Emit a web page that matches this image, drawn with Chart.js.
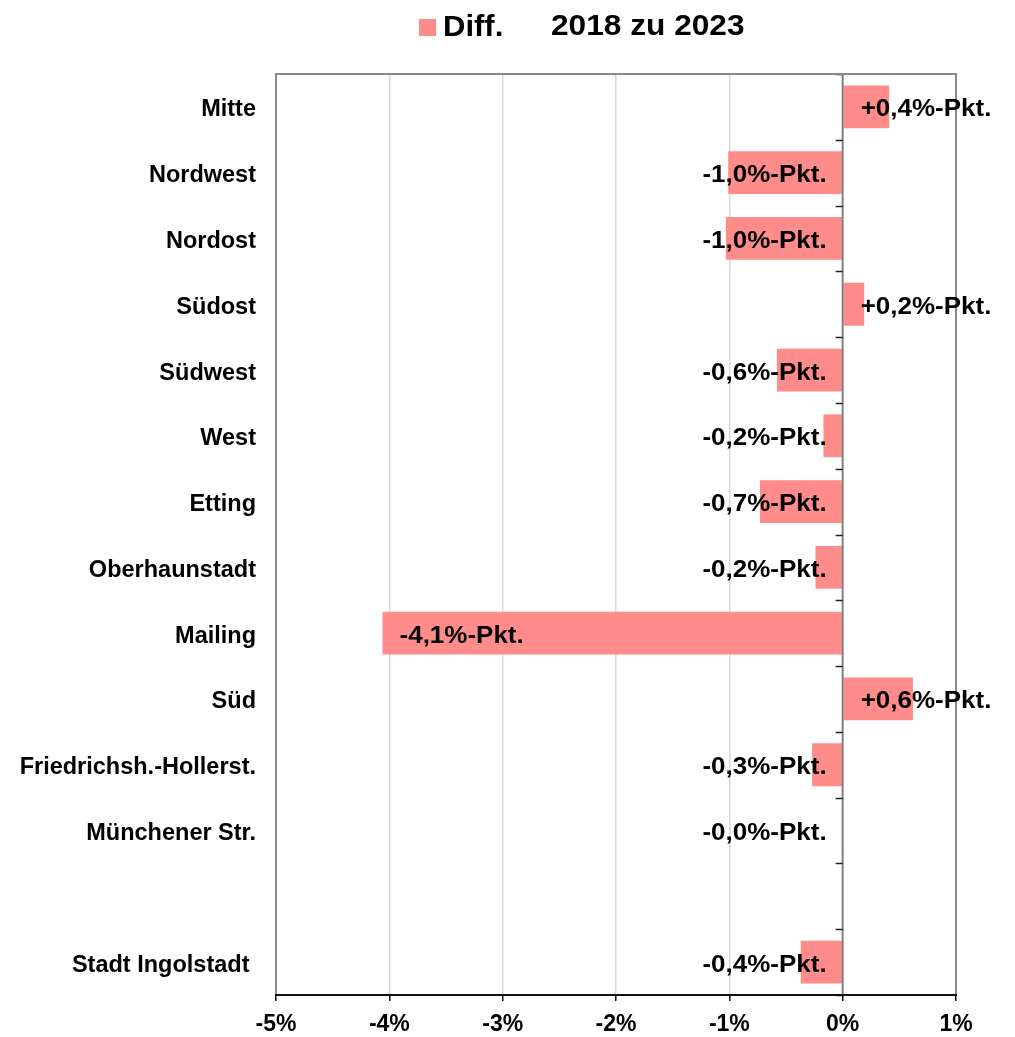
<!DOCTYPE html>
<html>
<head>
<meta charset="utf-8">
<script src="https://cdn.jsdelivr.net/npm/chart.js@4/dist/chart.umd.min.js"></script>
<style>
  html, body { margin: 0; padding: 0; background: #ffffff; }
  #wrap { width: 1015px; height: 1037px; position: relative; }
</style>
</head>
<body>
<div id="wrap"><canvas id="c" width="1015" height="1037"></canvas></div>
<script>
// ---- data ----
const categories = ['Mitte', 'Nordwest', 'Nordost', 'Südost', 'Südwest', 'West', 'Etting',
  'Oberhaunstadt', 'Mailing', 'Süd', 'Friedrichsh.-Hollerst.', 'Münchener Str.', '', 'Stadt Ingolstadt '];
const diffValues = [0.41, -1.01, -1.03, 0.19, -0.58, -0.17, -0.73, -0.24, -4.06, 0.62, -0.27, -0.004, null, -0.37];
const valueLabels = ['+0,4%-Pkt.', '-1,0%-Pkt.', '-1,0%-Pkt.', '+0,2%-Pkt.', '-0,6%-Pkt.', '-0,2%-Pkt.', '-0,7%-Pkt.',
  '-0,2%-Pkt.', '-4,1%-Pkt.', '+0,6%-Pkt.', '-0,3%-Pkt.', '-0,0%-Pkt.', '', '-0,4%-Pkt.'];
const labelAnchor = ['base', 'base', 'base', 'base', 'base', 'base', 'base', 'base', 'end', 'base', 'base', 'base', 'base', 'base'];
const xTickValues = [-5, -4, -3, -2, -1, 0, 1];
const seriesName = 'Diff.';
const titleText = '2018 zu 2023';

const FONT = '"Liberation Sans", Arial, sans-serif';
const BAR = '#FF8B8B';

function stretchedText(ctx, text, x, y, sx, align) {
  const w = ctx.measureText(text).width * sx;
  const left = align === 'right' ? x - w : x;
  ctx.save();
  ctx.textAlign = 'left';
  ctx.translate(left, y);
  ctx.scale(sx, 1);
  ctx.fillText(text, 0, 0);
  ctx.restore();
}

const customPlugin = {
  id: 'custom',
  afterDatasetsDraw(chart) {
    const { ctx, chartArea: a, scales: { x, y } } = chart;
    const x0 = x.getPixelForValue(0);
    ctx.save();
    // zero line
    ctx.strokeStyle = '#7f7f7f';
    ctx.lineWidth = 2;
    ctx.beginPath(); ctx.moveTo(x0, a.top); ctx.lineTo(x0, a.bottom); ctx.stroke();
    // category boundary ticks on zero line
    ctx.strokeStyle = '#222';
    ctx.lineWidth = 1.5;
    for (let i = 0; i <= categories.length; i++) {
      const yy = Math.round(y.getPixelForValue(i - 0.5)) + 0.5;
      ctx.beginPath(); ctx.moveTo(x0 - 7, yy); ctx.lineTo(x0, yy); ctx.stroke();
    }
    // frame
    ctx.strokeStyle = '#8a8a8a';
    ctx.lineWidth = 2;
    ctx.beginPath();
    ctx.moveTo(a.left, a.bottom); ctx.lineTo(a.left, a.top); ctx.lineTo(a.right, a.top); ctx.lineTo(a.right, a.bottom);
    ctx.stroke();
    ctx.strokeStyle = '#111';
    ctx.beginPath(); ctx.moveTo(a.left - 1, a.bottom); ctx.lineTo(a.right + 1, a.bottom); ctx.stroke();

    // value labels
    ctx.fillStyle = '#000';
    ctx.font = 'bold 23px ' + FONT;
    ctx.textBaseline = 'alphabetic';
    const meta = chart.getDatasetMeta(0);
    meta.data.forEach((bar, i) => {
      const v = diffValues[i];
      if (v === null || v === undefined || !valueLabels[i]) return;
      const yc = bar.y + 9.5;
      if (labelAnchor[i] === 'end') {
        stretchedText(ctx, valueLabels[i], x.getPixelForValue(v) + 17, yc, 1.13, 'left');
      } else if (v >= 0) {
        stretchedText(ctx, valueLabels[i], x0 + 18, yc, 1.13, 'left');
      } else {
        stretchedText(ctx, valueLabels[i], x0 - 16, yc, 1.13, 'right');
      }
    });
    ctx.restore();
  },
  afterDraw(chart) {
    const ctx = chart.ctx;
    ctx.save();
    ctx.fillStyle = BAR;
    ctx.fillRect(419, 19, 17, 17);
    ctx.fillStyle = '#000';
    ctx.textBaseline = 'alphabetic';
    ctx.font = 'bold 29px ' + FONT;
    stretchedText(ctx, seriesName, 443, 36, 1.07, 'left');
    ctx.font = 'bold 30px ' + FONT;
    stretchedText(ctx, titleText, 551, 35, 1.055, 'left');
    ctx.restore();
  }
};

new Chart(document.getElementById('c'), {
  type: 'bar',
  data: {
    labels: categories,
    datasets: [{
      label: seriesName,
      data: diffValues,
      backgroundColor: BAR,
      borderWidth: 0,
      barPercentage: 0.65,
      categoryPercentage: 1.0
    }]
  },
  options: {
    indexAxis: 'y',
    responsive: false,
    animation: false,
    devicePixelRatio: 1,
    layout: { padding: { top: 74, right: 59, left: 0, bottom: 0 } },
    plugins: {
      legend: { display: false },
      title: { display: false },
      tooltip: { enabled: false }
    },
    scales: {
      x: {
        type: 'linear',
        min: -5,
        max: 1,
        afterBuildTicks(scale) { scale.ticks = xTickValues.map(v => ({ value: v })); },
        afterFit(scale) { scale.height = 42; },
        border: { display: false },
        grid: {
          color: (c) => (c.tick && (c.tick.value === 0 || c.tick.value === -5 || c.tick.value === 1)) ? 'rgba(0,0,0,0)' : '#d9d9d9',
          lineWidth: 1.5,
          drawTicks: true,
          tickLength: 6,
          tickColor: '#111',
          tickWidth: 1.5
        },
        ticks: {
          color: '#000',
          padding: 10,
          font: { family: FONT, size: 23, weight: 'bold' },
          callback: (v) => v + '%'
        }
      },
      y: {
        type: 'category',
        offset: true,
        afterFit(scale) { scale.width = 276; },
        border: { display: false },
        grid: { display: false, drawTicks: false, tickLength: 0 },
        ticks: {
          color: '#000',
          padding: 20,
          labelOffset: 3,
          autoSkip: false,
          font: { family: FONT, size: 23.5, weight: 'bold' }
        }
      }
    }
  },
  plugins: [customPlugin]
});
</script>
</body>
</html>
